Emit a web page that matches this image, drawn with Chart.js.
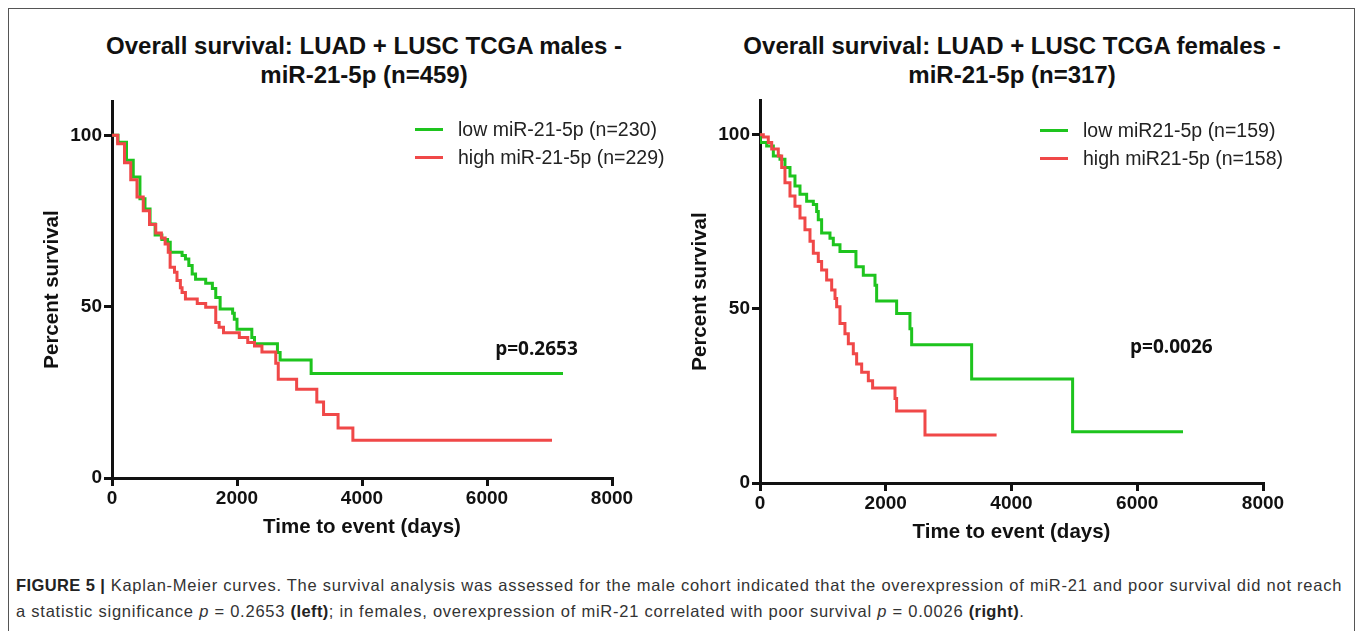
<!DOCTYPE html>
<html>
<head>
<meta charset="utf-8">
<script src="https://cdn.jsdelivr.net/npm/chart.js@4.4.0/dist/chart.umd.min.js"></script>
<style>
  html, body { margin: 0; padding: 0; background: #fff; }
  body { width: 1360px; height: 631px; position: relative; overflow: hidden; font-family: "Liberation Sans", Arial, sans-serif; }
  .frame { position: absolute; left: 8px; top: 8px; width: 1347px; height: 640px; border: 1px solid #555; box-sizing: border-box; }
  canvas { position: absolute; }
  .title { position: absolute; width: 640px; font-weight: bold; font-size: 24px; line-height: 29px; color: #111; text-align: center; white-space: nowrap; }
  .legend { position: absolute; font-size: 19.5px; color: #222; line-height: 28px; white-space: nowrap; }
  .legend .sw { display: inline-block; width: 28px; height: 3px; vertical-align: middle; margin-right: 15px; position: relative; top: -1px; }
  .caption { position: absolute; left: 16px; top: 572px; font-size: 16.5px; letter-spacing: 0.76px; line-height: 26px; color: #333; white-space: nowrap; }
  .caption b { color: #222; letter-spacing: 0.4px; }
</style>
</head>
<body>
<div class="frame"></div>

<div class="title" style="left:44px; top:31px;">Overall survival: LUAD + LUSC TCGA males -<br>miR-21-5p (n=459)</div>
<div class="title" style="left:692px; top:31px;">Overall survival: LUAD + LUSC TCGA females -<br>miR-21-5p (n=317)</div>

<canvas id="males" width="680" height="560" style="left:0; top:0;"></canvas>
<canvas id="females" width="700" height="565" style="left:650px; top:0;"></canvas>

<div class="legend" style="left:415px; top:115px;">
  <div><span class="sw" style="background:#1ec41e"></span>low miR-21-5p (n=230)</div>
  <div><span class="sw" style="background:#f04848"></span>high miR-21-5p (n=229)</div>
</div>
<div class="legend" style="left:1040px; top:116px;">
  <div><span class="sw" style="background:#1ec41e"></span>low miR21-5p (n=159)</div>
  <div><span class="sw" style="background:#f04848"></span>high miR21-5p (n=158)</div>
</div>

<div class="caption"><b>FIGURE 5 |</b> Kaplan-Meier curves. The survival analysis was assessed for the male cohort indicated that the overexpression of miR-21 and poor survival did not reach<br>a statistic significance <i>p</i> = 0.2653 <b>(left)</b>; in females, overexpression of miR-21 correlated with poor survival <i>p</i> = 0.0026 <b>(right)</b>.</div>

<script>
// males, low miR-21-5p
const maleLowDays = [0, 97, 232, 340, 447, 528, 609, 690, 798, 889, 932, 1121, 1175, 1229, 1283, 1337, 1499, 1606, 1660, 1730, 1930, 1957, 2000, 2237, 2280, 2647, 2690, 3186, 7216];
const maleLowSurv = [100, 98, 92.7, 87.8, 81.5, 78.5, 74.1, 70.9, 69.6, 68.8, 65.9, 64.9, 63.9, 62, 59.5, 58, 56.8, 55.3, 52.7, 49.3, 48.1, 46.3, 43.4, 41, 39.2, 36.6, 34.4, 30.5, 30.5];
// males, high miR-21-5p
const maleHighDays = [0, 90, 200, 300, 400, 500, 600, 700, 790, 850, 900, 930, 1000, 1040, 1094, 1121, 1175, 1364, 1499, 1660, 1714, 1784, 2037, 2172, 2280, 2399, 2620, 2660, 2954, 3277, 3385, 3617, 3854, 7040];
const maleHighSurv = [100, 97.5, 92, 87, 82, 78, 74, 71.5, 70, 68.3, 65.9, 61.5, 60, 57.6, 55.5, 54.1, 52.2, 50.9, 49.8, 45.4, 44, 42.4, 41, 39.5, 38.5, 36.8, 33.5, 28.8, 25.9, 22.2, 18.5, 14.6, 11, 11];
// females, low miR21-5p
const femLowDays = [0, 5, 106, 212, 318, 397, 477, 556, 636, 742, 848, 901, 927, 980, 1113, 1166, 1272, 1526, 1643, 1829, 1855, 2173, 2385, 2412, 3366, 4972, 6728];
const femLowSurv = [100, 97.8, 96.8, 93.9, 93, 90.6, 88.2, 85.3, 82.9, 80.9, 80, 78, 75.6, 71.8, 70.3, 68.4, 66.5, 62.1, 59.7, 56.8, 52.3, 48.7, 44.3, 39.7, 29.9, 14.7, 14.7];
// females, high miR21-5p
const femHighDays = [0, 53, 132, 186, 291, 345, 397, 477, 556, 636, 715, 795, 848, 927, 980, 1060, 1140, 1193, 1219, 1272, 1351, 1405, 1484, 1537, 1617, 1723, 1791, 2147, 2173, 2624, 3763];
const femHighSurv = [100, 99.4, 97.8, 95.9, 93.9, 90.6, 86.2, 82.4, 79.5, 76.1, 72.7, 69.4, 66, 63.6, 61.2, 58.3, 55.4, 53, 50.6, 45.8, 42.9, 40, 37.1, 34.2, 31.8, 29.4, 27.3, 24.3, 20.7, 13.8, 13.8];

const xTicks = [0, 2000, 4000, 6000, 8000];
const yTicks = [0, 50, 100];

const GREEN = '#1ec41e';
const RED = '#f04848';

function toPoints(days, surv) {
  return days.map((d, i) => ({ x: d, y: surv[i] }));
}

// draws the p value label at a data position
const pLabelPlugin = {
  id: 'pLabel',
  afterDatasetsDraw(chart, args, opts) {
    const { ctx, scales: { x, y } } = chart;
    ctx.save();
    ctx.font = 'bold 19px "Open Sans", "Liberation Sans", sans-serif';
    ctx.fillStyle = '#111';
    ctx.textBaseline = 'middle';
    ctx.textAlign = 'left';
    ctx.fillText(opts.text, x.getPixelForValue(opts.at[0]), y.getPixelForValue(opts.at[1]));
    ctx.restore();
  }
};

function makeChart(id, low, high, pText, pAt, pad) {
  const axisFont = { family: '"Liberation Sans", Arial, sans-serif', size: 19, weight: 'bold' };
  const titleFont = { family: '"Liberation Sans", Arial, sans-serif', size: 20.5, weight: 'bold' };
  return new Chart(document.getElementById(id), {
    type: 'line',
    data: {
      datasets: [
        { data: high, borderColor: RED, borderWidth: 3, stepped: true, pointRadius: 0, fill: false },
        { data: low, borderColor: GREEN, borderWidth: 3, stepped: true, pointRadius: 0, fill: false }
      ]
    },
    options: {
      responsive: false,
      animation: false,
      layout: { padding: pad },
      plugins: {
        legend: { display: false },
        tooltip: { enabled: false },
        pLabel: { text: pText, at: pAt }
      },
      scales: {
        x: {
          type: 'linear',
          min: 0, max: 8000,
          afterBuildTicks: s => { s.ticks = xTicks.map(v => ({ value: v })); },
          afterFit: s => { s.height = 62; },
          ticks: { color: '#111', font: axisFont, padding: 1, maxRotation: 0, callback: v => String(v) },
          grid: { drawOnChartArea: false, drawTicks: true, tickLength: 8, color: '#111', lineWidth: 3 },
          border: { color: '#111', width: 3 },
          title: { display: true, text: 'Time to event (days)', color: '#111', font: titleFont, padding: 0 }
        },
        y: {
          min: 0, max: 110,
          afterBuildTicks: s => { s.ticks = yTicks.map(v => ({ value: v })); },
          afterFit: s => { s.width = 72; },
          ticks: { color: '#111', font: axisFont, padding: 2, callback: v => String(v) },
          grid: { drawOnChartArea: false, drawTicks: true, tickLength: 8, color: '#111', lineWidth: 3 },
          border: { color: '#111', width: 3 },
          title: { display: true, text: 'Percent survival', color: '#111', font: titleFont, padding: 0 }
        }
      }
    },
    plugins: [pLabelPlugin]
  });
}

makeChart('males', toPoints(maleLowDays, maleLowSurv), toPoints(maleHighDays, maleHighSurv),
  'p=0.2653', [6130, 37.4], { top: 101, left: 40, right: 68, bottom: 20 });
makeChart('females', toPoints(femLowDays, femLowSurv), toPoints(femHighDays, femHighSurv),
  'p=0.0026', [5885, 38.8], { top: 100, left: 38, right: 87, bottom: 20 });
</script>
</body>
</html>
